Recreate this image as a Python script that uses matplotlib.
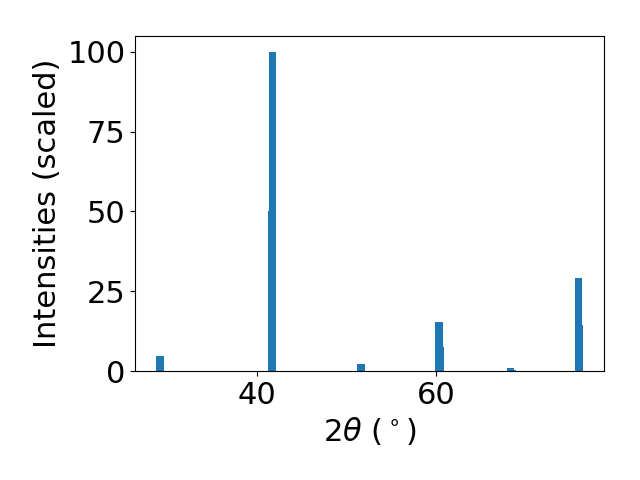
import matplotlib
matplotlib.use("Agg")
import matplotlib.pyplot as plt

# peak positions (2theta, degrees) and scaled intensities
two_theta = [29.1, 29.2, 41.55, 41.69, 51.6, 51.7, 60.33, 60.45, 68.32, 68.53, 75.94, 76.02]
intensity = [4.7, 2.3, 50.3, 100.0, 2.2, 1.1, 15.4, 7.6, 0.9, 0.45, 29.2, 14.5]

fig, ax = plt.subplots(figsize=(6.4, 4.8), dpi=100)
ax.bar(two_theta, intensity)

ax.set_xlabel(r"$2\theta$ ($^\circ$)", fontsize=22)
ax.set_ylabel("Intensities (scaled)", fontsize=22)
ax.tick_params(labelsize=22)
ax.set_yticks([0, 25, 50, 75, 100])

fig.subplots_adjust(left=0.211, right=0.944, bottom=0.227, top=0.925)
fig.savefig("out.png")
